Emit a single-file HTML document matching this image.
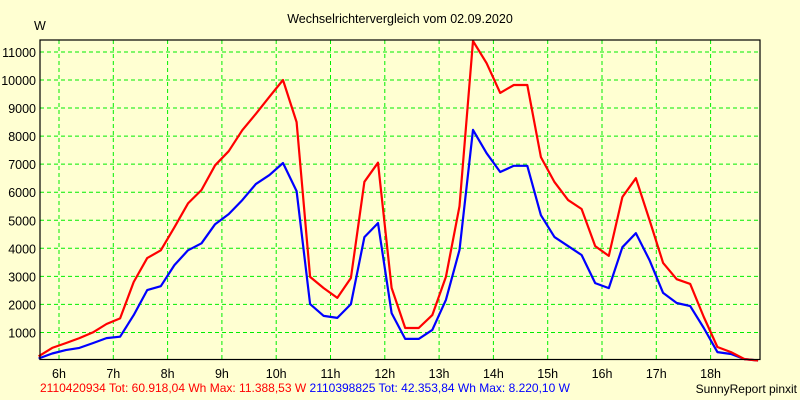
<!DOCTYPE html>
<html><head><meta charset="utf-8"><style>
html,body{margin:0;padding:0;background:#ffffd2;}
svg{display:block;font-family:"Liberation Sans",sans-serif;}
</style></head><body>
<svg id="chart" width="800" height="400" viewBox="0 0 800 400">
<rect x="0" y="0" width="800" height="400" fill="#ffffd2"/>
<text x="400" y="23" font-size="12.5" text-anchor="middle" fill="#000">Wechselrichtervergleich vom 02.09.2020</text>
<text x="34" y="30" font-size="12.5" fill="#000">W</text>
<g id="grid"></g>
<g id="yticks"></g>
<g id="xticks"></g>
<g id="series"></g>
<rect x="40" y="40" width="720" height="319.5" fill="none" stroke="#000" stroke-width="1.2"/>
<text x="40" y="392" font-size="12"><tspan fill="#ff0000">2110420934 Tot: 60.918,04 Wh Max: 11.388,53 W </tspan><tspan fill="#0000ff">2110398825 Tot: 42.353,84 Wh Max: 8.220,10 W</tspan></text>
<text x="797" y="393" font-size="12" text-anchor="end" fill="#000">SunnyReport pinxit</text>
</svg>
<script>
const yTicks=[1000,2000,3000,4000,5000,6000,7000,8000,9000,10000,11000];
const xHours=[6,7,8,9,10,11,12,13,14,15,16,17,18];
const startHour=5.625; // first quarter-hour sample
const redValues=[150,450,620,800,1000,1300,1500,2800,3650,3930,4750,5600,6080,6960,7460,8210,8790,9400,10000,8500,2980,2580,2230,2940,6370,7050,2590,1160,1160,1620,2980,5500,11390,10600,9540,9820,9820,7250,6360,5720,5400,4080,3730,5830,6500,5010,3480,2900,2730,1550,480,300,50,0];
const blueValues=[70,250,370,450,620,800,850,1620,2510,2650,3400,3930,4180,4860,5220,5720,6290,6610,7040,6040,2010,1590,1520,2010,4400,4900,1690,770,770,1090,2160,3940,8220,7390,6720,6940,6940,5180,4400,4080,3760,2760,2580,4040,4540,3580,2410,2050,1940,1160,300,230,50,0];
const NS="http://www.w3.org/2000/svg";
const X=h=>59+(h-6)*54.3;
const Y=v=>360.5-v*0.02805;
function mk(tag,attrs,parent){const e=document.createElementNS(NS,tag);for(const k in attrs)e.setAttribute(k,attrs[k]);parent.appendChild(e);return e;}
const grid=document.getElementById('grid'),yt=document.getElementById('yticks'),xt=document.getElementById('xticks'),ser=document.getElementById('series');
yTicks.forEach(v=>{
  const l=mk('line',{x1:40,x2:760,y1:Y(v),y2:Y(v),stroke:'#00ee00','stroke-width':1,'stroke-dasharray':'4,3'},grid);
  
  
  const t=mk('text',{x:36,y:Y(v)+5,'font-size':12.5,'text-anchor':'end',fill:'#000'},yt);
  t.textContent=v;
  
  
});
xHours.forEach(h=>{
  const l=mk('line',{x1:X(h),x2:X(h),y1:40,y2:359,stroke:'#00ee00','stroke-width':1,'stroke-dasharray':'4,3'},grid);
  
  
  const t=mk('text',{x:X(h),y:378,'font-size':12.5,'text-anchor':'middle',fill:'#000'},xt);
  t.textContent=h+'h';
  
  
});
function line(vals,color,name){
  const pts=vals.map((v,i)=>X(startHour+i*0.25).toFixed(1)+','+Y(v).toFixed(1)).join(' ');
  const p=mk('polyline',{points:pts,fill:'none',stroke:color,'stroke-width':2.2,'stroke-linejoin':'round'},ser);
  
  
}
line(blueValues,'#0000ff','series-2110398825');
line(redValues,'#ff0000','series-2110420934');
</script>
</body></html>
